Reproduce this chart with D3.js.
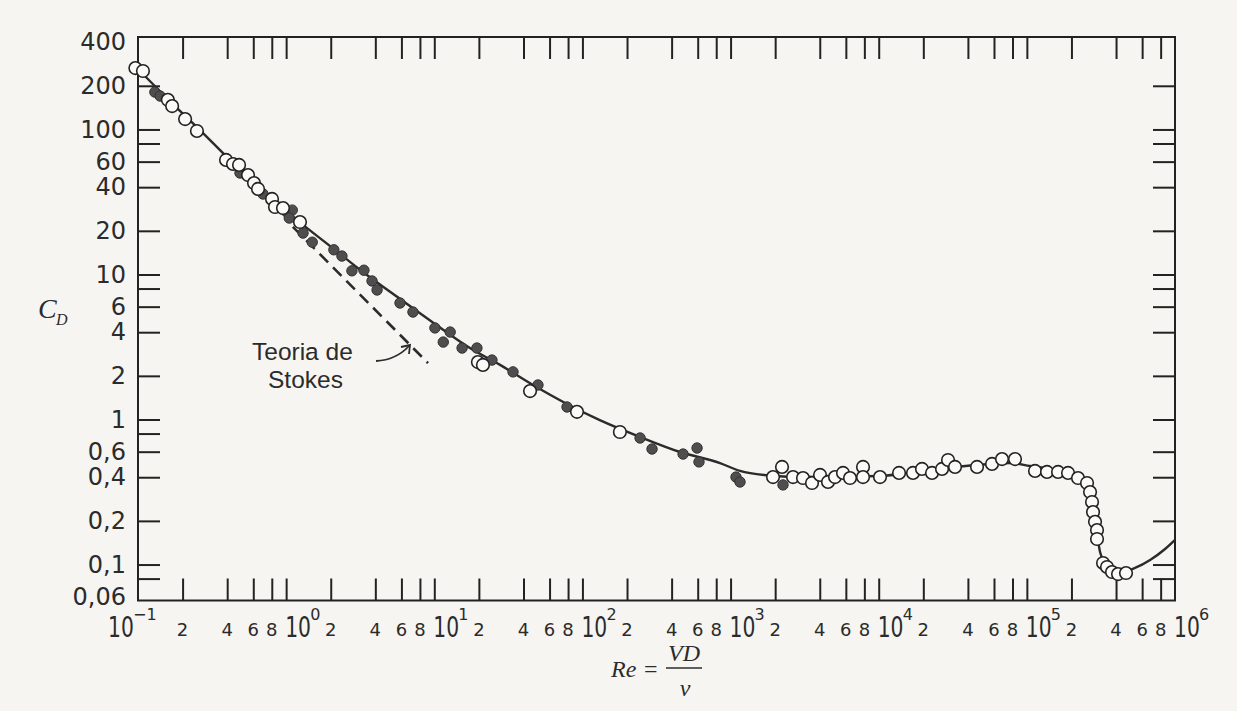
<!DOCTYPE html>
<html>
<head>
<meta charset="utf-8">
<script src="https://cdn.jsdelivr.net/npm/d3@7"></script>
<style>
  html, body { margin: 0; padding: 0; background: #f6f5f1; }
  svg { display: block; }
  text { fill: #2b2b2b; }
</style>
</head>
<body>
<svg width="1237" height="711"></svg>
<script>
// solid curve
const curveRe = [0.1, 0.164, 0.262, 0.418, 0.698, 1.18, 1.98, 3.3, 5.87, 10.1, 17.4, 27.8, 46.4, 78.7, 131, 245, 456, 849, 1158, 1995, 2942, 10200, 19000, 32700, 56400, 77000, 105000, 167000, 211000, 247000, 267000, 284000, 298000, 312000, 337000, 376000, 439000, 537000, 679000, 857000, 1000000];
const curveCd = [261, 157, 99.1, 61.6, 37.6, 23.8, 15.7, 10.4, 6.78, 4.56, 3.11, 2.38, 1.73, 1.28, 0.99, 0.758, 0.597, 0.501, 0.442, 0.408, 0.401, 0.408, 0.442, 0.471, 0.494, 0.501, 0.478, 0.442, 0.401, 0.354, 0.302, 0.22, 0.16, 0.122, 0.1025, 0.0918, 0.0888, 0.0947, 0.1075, 0.128, 0.148];

// open circles
const openRe = [0.096, 0.108, 0.159, 0.170, 0.208, 0.250, 0.393, 0.438, 0.481, 0.553, 0.607, 0.646, 0.803, 0.841, 0.952, 1.24, 19.7, 21.3, 44.3, 91.9, 179, 1934, 2225, 2640, 3083, 3546, 4017, 4548, 5071, 5741, 6401, 7834, 7834, 10205, 13715, 17040, 19600, 22900, 26760, 29370, 32740, 46080, 58190, 67970, 83180, 113500, 136800, 162400, 189700, 221500, 254800, 267000, 275400, 279700, 288500, 297600, 297600, 326800, 347600, 375700, 412500, 467000];
const openCd = [265, 253, 160, 145, 118, 97.6, 61.6, 57.8, 56.9, 48.5, 42.7, 38.9, 33.2, 29.2, 28.7, 23.0, 2.49, 2.38, 1.57, 1.13, 0.82, 0.401, 0.471, 0.401, 0.395, 0.365, 0.415, 0.371, 0.401, 0.428, 0.395, 0.471, 0.401, 0.401, 0.428, 0.428, 0.456, 0.428, 0.456, 0.526, 0.471, 0.471, 0.494, 0.534, 0.534, 0.442, 0.435, 0.435, 0.428, 0.395, 0.365, 0.316, 0.270, 0.230, 0.197, 0.173, 0.150, 0.1025, 0.0962, 0.0888, 0.086, 0.0874];

// filled circles
const filledRe = [0.130, 0.141, 0.488, 0.698, 1.01, 1.10, 1.05, 1.30, 1.50, 2.10, 2.38, 2.78, 3.35, 3.80, 4.11, 5.87, 7.18, 10.1, 11.5, 12.8, 15.4, 19.4, 24.5, 34.0, 50.1, 78.7, 245, 295, 478, 594, 612, 1088, 1158, 2259];
const filledCd = [181, 170, 50.1, 35.9, 27.0, 27.8, 24.5, 19.3, 16.7, 14.8, 13.4, 10.6, 10.7, 9.02, 7.82, 6.36, 5.51, 4.28, 3.42, 4.01, 3.11, 3.11, 2.57, 2.13, 1.73, 1.22, 0.746, 0.626, 0.578, 0.636, 0.51, 0.401, 0.371, 0.354];

// Stokes line ends
const stokesRe = [1.11, 9.07];
const stokesCd = [21.3, 2.45];

// axis ticks and labels
const yLeftTicks = [200, 100, 80, 60, 40, 20, 10, 8, 6, 4, 2, 1, 0.8, 0.6, 0.4, 0.2, 0.1, 0.08];
const yRightTicks = [200, 100, 80, 60, 40, 20, 10, 8, 6, 4, 2, 1, 0.6, 0.4, 0.2, 0.1, 0.08];
const yLabelValues = [400, 200, 100, 60, 40, 20, 10, 6, 4, 2, 1, 0.6, 0.4, 0.2, 0.1, 0.06];
const yLabelText = ["400", "200", "100", "60", "40", "20", "10", "6", "4", "2", "1", "0,6", "0,4", "0,2", "0,1", "0,06"];
const decades = [-1, 0, 1, 2, 3, 4, 5, 6];
const minorMults = [2, 4, 6, 8];
const minorText = ["2", "4", "6", "8"];

const svg = d3.select("svg");
const plotLeft = 138, plotRight = 1175, plotTop = 37, plotBottom = 600.5;
const tickLen = 22;

const x = d3.scaleLog().domain([0.1, 1e6]).range([plotLeft, plotRight]);
const y = d3.scaleLog().domain([0.0565, 434]).range([plotBottom, plotTop]);

const xTicks = [];
decades.slice(0, -1).forEach(d => {
  minorMults.forEach(m => xTicks.push(m * Math.pow(10, d)));
  if (d + 1 < 6) xTicks.push(Math.pow(10, d + 1));
});

// ticks, pointing inward
svg.append("g")
  .attr("transform", translate(0, plotTop))
  .call(d3.axisTop(x).tickValues(xTicks).tickSize(-tickLen).tickFormat(""))
  .call(styleAxis);
svg.append("g")
  .attr("transform", translate(0, plotBottom))
  .call(d3.axisBottom(x).tickValues(xTicks).tickSize(-tickLen).tickFormat(""))
  .call(styleAxis);
svg.append("g")
  .attr("transform", translate(plotLeft, 0))
  .call(d3.axisLeft(y).tickValues(yLeftTicks).tickSize(-tickLen).tickFormat(""))
  .call(styleAxis);
svg.append("g")
  .attr("transform", translate(plotRight, 0))
  .call(d3.axisRight(y).tickValues(yRightTicks).tickSize(-tickLen).tickFormat(""))
  .call(styleAxis);

svg.append("rect")
  .attr("x", plotLeft).attr("y", plotTop)
  .attr("width", plotRight - plotLeft).attr("height", plotBottom - plotTop)
  .attr("fill", "none").attr("stroke", "#222").attr("stroke-width", 2);

// y labels
svg.append("g")
  .attr("transform", translate(plotLeft, 0))
  .call(d3.axisLeft(y).tickValues(yLabelValues).tickSize(0).tickPadding(12)
    .tickFormat((v, i) => yLabelText[i]))
  .call(g => g.select(".domain").remove())
  .selectAll("text")
  .attr("font-family", "DejaVu Sans").attr("font-size", 24).attr("fill", "#2b2b2b");

// x labels
const xLab = svg.append("g").attr("font-family", "DejaVu Sans");
decades.slice(0, -1).forEach(d => {
  minorMults.forEach((m, i) => {
    xLab.append("text")
      .attr("x", x(m * Math.pow(10, d))).attr("y", 636)
      .attr("text-anchor", "middle").attr("font-size", 18)
      .text(minorText[i]);
  });
});
decades.forEach(d => {
  const dx = d === -1 ? -30 : -1;
  const g = xLab.append("g").attr("transform", translate(x(Math.pow(10, d)) + dx, 637));
  g.append("text").attr("transform", "scale(0.7,1)").attr("font-size", 29).text("10");
  g.append("text").attr("x", 25).attr("y", -17).attr("font-size", 16)
    .text(d < 0 ? "\u2212" + (-d) : d);
});

// Stokes dashed line
svg.append("path")
  .attr("d", d3.line().x(i => x(stokesRe[i])).y(i => y(stokesCd[i]))(d3.range(stokesRe.length)))
  .attr("fill", "none").attr("stroke", "#2b2b2b").attr("stroke-width", 2.6)
  .attr("stroke-dasharray", "12,7");

// main curve
const line = d3.line()
  .x(i => x(curveRe[i])).y(i => y(curveCd[i]))
  .curve(d3.curveMonotoneX);
svg.append("path")
  .attr("d", line(d3.range(curveRe.length)))
  .attr("fill", "none").attr("stroke", "#2b2b2b").attr("stroke-width", 2.4);

svg.append("g").selectAll("circle")
  .data(d3.range(filledRe.length)).enter().append("circle")
  .attr("cx", i => x(filledRe[i])).attr("cy", i => y(filledCd[i]))
  .attr("r", 5.2).attr("fill", "#4e4e4e").attr("stroke", "#333").attr("stroke-width", 1);

svg.append("g").selectAll("circle")
  .data(d3.range(openRe.length)).enter().append("circle")
  .attr("cx", i => x(openRe[i])).attr("cy", i => y(openCd[i]))
  .attr("r", 6.3).attr("fill", "#fbfaf7").attr("stroke", "#222").attr("stroke-width", 1.6);

// Stokes annotation
const note = svg.append("g").attr("font-family", "Liberation Sans").attr("font-size", 24.5);
note.append("text").attr("x", 252).attr("y", 360).text("Teoria de");
note.append("text").attr("x", 268).attr("y", 388).text("Stokes");
svg.append("path")
  .attr("d", "M376,361 Q396,360 409,346")
  .attr("fill", "none").attr("stroke", "#2b2b2b").attr("stroke-width", 1.8);
svg.append("path")
  .attr("d", "M401,347 L410,345 L409,354")
  .attr("fill", "none").attr("stroke", "#2b2b2b").attr("stroke-width", 1.8);

// axis titles
const cd = svg.append("g").attr("font-family", "Liberation Serif").attr("font-style", "italic");
cd.append("text").attr("x", 38).attr("y", 318).attr("font-size", 28).text("C");
cd.append("text").attr("x", 56).attr("y", 325).attr("font-size", 16).text("D");

const re = svg.append("g").attr("font-family", "Liberation Serif").attr("font-size", 24);
re.append("text").attr("x", 611).attr("y", 677).attr("font-style", "italic").text("Re");
re.append("text").attr("x", 644).attr("y", 677).text("=");
re.append("text").attr("x", 684).attr("y", 661).attr("text-anchor", "middle").attr("font-style", "italic").text("VD");
re.append("line").attr("x1", 666).attr("x2", 702).attr("y1", 668).attr("y2", 668)
  .attr("stroke", "#2b2b2b").attr("stroke-width", 1.3);
re.append("text").attr("x", 685).attr("y", 696).attr("text-anchor", "middle").attr("font-style", "italic").text("\u03bd");

// utils
function styleAxis(g) {
  g.select(".domain").remove();
  g.selectAll(".tick line").attr("stroke", "#222").attr("stroke-width", 2);
}

function translate(x, y) {
  return `translate(${x}, ${y})`;
}
</script>
</body>
</html>
